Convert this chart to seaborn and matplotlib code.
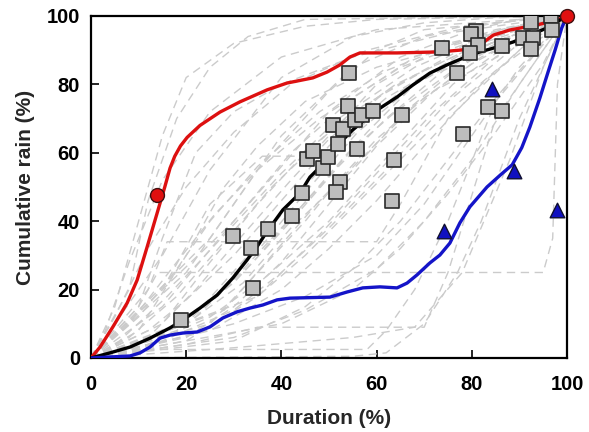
import numpy as np
import pandas as pd
import matplotlib
matplotlib.use("Agg")
import matplotlib.pyplot as plt
import seaborn as sns

# ---------------- data ----------------
# individual storm curves (gray dashed), Duration (%) vs Cumulative rain (%)
gray_x = [
    [0, 5, 10, 15, 20, 30, 45, 60, 100],
    [0, 8, 12, 18, 25, 33, 45, 100],
    [0, 10, 15, 22, 30, 40, 55, 75, 100],
    [0, 10, 20, 28, 35, 45, 60, 80, 100],
    [0, 15, 25, 35, 45, 55, 70, 85, 100],
    [0, 12, 22, 30, 42, 50, 62, 80, 100],
    [0, 18, 28, 38, 48, 58, 68, 84, 100],
    [0, 20, 30, 40, 50, 60, 72, 88, 100],
    [0, 25, 35, 45, 52, 60, 70, 82, 100],
    [0, 10, 14, 95, 97, 98, 100],
    [0, 12, 16, 60, 65, 75, 90, 100],
    [0, 20, 35, 70, 75, 85, 100],
    [0, 10, 58, 62, 68, 75, 85, 100],
    [0, 15, 25, 36, 46, 60, 75, 100],
    [0, 30, 55, 68, 78, 88, 95, 100],
    [0, 10, 30, 45, 60, 70, 80, 90, 100],
    [0, 15, 30, 40, 50, 62, 75, 90, 100],
    [0, 8, 18, 26, 35, 48, 65, 85, 100],
    [0, 5, 12, 20, 30, 42, 58, 78, 100],
    [0, 20, 32, 42, 55, 66, 78, 90, 100],
    [0, 12, 25, 37, 50, 63, 76, 90, 100],
    [0, 6, 16, 28, 40, 52, 68, 86, 100],
    [0, 25, 40, 50, 60, 70, 82, 94, 100],
    [0, 30, 45, 55, 65, 75, 85, 95, 100],
    [0, 3, 8, 15, 25, 40, 60, 100],
    [0, 20, 35, 50, 60, 70, 100],
    [0, 15, 30, 42, 55, 68, 85, 100],
    [0, 55, 62, 70, 77, 82, 90, 100],
    [0, 14, 24, 33, 43, 53, 65, 80, 100],
    [0, 16, 26, 36, 46, 56, 68, 84, 100],
    [0, 12, 20, 30, 40, 50, 62, 78, 100],
    [0, 18, 30, 42, 52, 62, 74, 88, 100],
    [0, 22, 34, 44, 54, 64, 76, 90, 100],
    [0, 8, 18, 28, 38, 50, 64, 82, 100],
    [0, 28, 38, 48, 58, 68, 80, 92, 100],
    [0, 10, 18, 25, 35, 48, 62, 80, 100],
    [0, 20, 35, 48, 60, 72, 85, 100],
    [0, 35, 45, 55, 65, 75, 85, 95, 100],
    [0, 15, 25, 40, 55, 70, 85, 100],
    [0, 25, 40, 55, 70, 85, 100],
    [0, 30, 50, 65, 80, 90, 100],
    [0, 30, 45, 60, 70, 80, 90, 100],
    [0, 40, 55, 65, 75, 85, 95, 100],
]
gray_y = [
    [0, 15, 40, 65, 82, 92, 97, 99, 100],
    [0, 20, 46, 70, 85, 94, 99, 100],
    [0, 15, 35, 60, 72, 80, 88, 95, 100],
    [0, 8, 30, 50, 62, 75, 85, 93, 100],
    [0, 10, 28, 45, 60, 72, 84, 94, 100],
    [0, 6, 20, 33, 52, 64, 78, 92, 100],
    [0, 8, 20, 35, 50, 66, 80, 92, 100],
    [0, 6, 15, 28, 45, 62, 78, 90, 100],
    [0, 10, 25, 40, 52, 64, 76, 88, 100],
    [0, 15, 25, 25, 35, 80, 100],
    [0, 20, 34, 34, 45, 70, 90, 100],
    [0, 4, 9, 9, 25, 70, 100],
    [0, 2.5, 2.5, 8, 20, 40, 75, 100],
    [0, 20, 45, 59, 59, 80, 92, 100],
    [0, 3, 6, 9, 25, 58, 85, 100],
    [0, 3, 10, 18, 30, 45, 65, 85, 100],
    [0, 5, 14, 25, 38, 55, 75, 92, 100],
    [0, 10, 28, 42, 55, 70, 85, 95, 100],
    [0, 12, 32, 50, 66, 80, 90, 97, 100],
    [0, 10, 22, 38, 55, 72, 86, 95, 100],
    [0, 4, 12, 24, 40, 60, 80, 94, 100],
    [0, 5, 18, 36, 54, 70, 85, 96, 100],
    [0, 8, 20, 32, 46, 62, 80, 95, 100],
    [0, 5, 15, 26, 40, 58, 76, 92, 100],
    [0, 8, 28, 52, 72, 88, 96, 100],
    [0, 25, 55, 78, 90, 96, 100],
    [0, 15, 40, 60, 76, 88, 96, 100],
    [0, 0.5, 1.5, 10, 25, 40, 70, 100],
    [0, 6, 16, 30, 47, 63, 78, 90, 100],
    [0, 8, 18, 33, 50, 66, 80, 92, 100],
    [0, 8, 17, 30, 46, 62, 76, 89, 100],
    [0, 9, 22, 40, 56, 70, 84, 94, 100],
    [0, 12, 28, 44, 60, 72, 84, 95, 100],
    [0, 6, 18, 34, 50, 66, 80, 92, 100],
    [0, 14, 30, 46, 60, 74, 86, 95, 100],
    [0, 12, 26, 40, 56, 72, 84, 94, 100],
    [0, 5, 18, 36, 54, 72, 88, 100],
    [0, 18, 30, 44, 58, 72, 84, 94, 100],
    [0, 30, 55, 82, 94, 98, 99.5, 100],
    [0, 35, 65, 85, 94, 98, 100],
    [0, 40, 72, 88, 96, 99, 100],
    [0, 6, 14, 26, 40, 58, 80, 100],
    [0, 10, 20, 32, 48, 66, 86, 100],
]

# red envelope (front-loaded)
red_x = [0, 1.9, 4.6, 7.6, 9.7, 11.8, 13.9, 15.5, 16.6, 17.6, 18.8, 20.2, 22.9,
         27.1, 31.3, 37.0, 41.2, 46.6, 49.6, 52.3, 54.4, 56.5, 64.3, 73.3, 78.2,
         81.7, 84.5, 88.0, 93.7, 97.9, 100]
red_y = [0, 3.2, 9.1, 16.1, 22.8, 32.5, 42.4, 50.0, 55.5, 59.0, 62.0, 64.5, 68.0,
         71.9, 74.9, 78.4, 80.4, 81.9, 83.6, 85.7, 88.0, 89.2, 89.2, 89.5, 90.1,
         91.5, 94.4, 95.9, 97.4, 98.8, 100]

# black median curve
black_x = [0, 4.0, 8.2, 12.4, 16.6, 19.3, 22.9, 26.5, 29.8, 32.8, 35.0, 37.0, 40.3,
           43.9, 46.0, 48.1, 50.2, 52.3, 55.0, 58.0, 60.1, 64.3, 67.6, 71.2, 74.8,
           78.2, 81.7, 85.3, 88.7, 92.2, 95.8, 98.5, 100]
black_y = [0, 1.5, 3.2, 5.8, 8.8, 11.1, 14.6, 18.4, 23.4, 28.7, 32.8, 37.0, 43.3,
           48.2, 52.9, 55.8, 58.8, 62.9, 66.7, 70.2, 72.5, 76.3, 79.8, 83.3, 85.7,
           87.7, 89.5, 90.9, 92.4, 94.4, 96.5, 98.8, 100]

# blue envelope (back-loaded)
blue_x = [0, 4.0, 8.2, 10.3, 12.4, 14.5, 16.6, 19.3, 22.3, 25.0, 27.7, 30.7, 33.4,
          36.1, 39.1, 41.8, 50.2, 53.8, 57.1, 60.7, 64.3, 66.4, 68.5, 71.2, 73.3,
          75.4, 77.5, 79.6, 83.2, 86.0, 88.5, 90.5, 92.2, 94.3, 96.0, 97.5, 98.9, 100]
blue_y = [0, 0.3, 0.6, 1.5, 3.2, 5.8, 6.7, 7.3, 7.6, 9.1, 11.7, 13.5, 14.6,
          15.5, 17.0, 17.5, 17.8, 19.3, 20.5, 20.8, 20.5, 21.9, 24.3, 27.8, 30.1,
          33.6, 39.5, 44.2, 50.0, 53.5, 56.5, 61.5, 67.5, 76.0, 83.5, 90.0, 96.5, 100]

# gray squares
sq_x = [18.9, 29.8, 33.6, 34.0, 37.2, 42.2, 44.3, 45.4, 46.6, 48.7, 49.8, 50.8,
        51.9, 52.9, 54.0, 55.5, 56.9, 59.2, 55.9, 52.3, 51.5, 54.2, 65.3, 63.7,
        63.2, 73.7, 80.9, 79.8, 81.3, 79.6, 86.3, 76.9, 78.1, 83.4, 86.3, 92.4,
        90.7, 92.9, 92.4, 96.6, 96.8]
sq_y = [11.1, 35.7, 32.2, 20.5, 37.7, 41.5, 48.2, 58.2, 60.5, 55.6, 58.8, 68.1,
        62.6, 67.0, 73.7, 69.6, 71.1, 72.2, 61.1, 51.5, 48.5, 83.3, 71.1, 57.9,
        45.9, 90.6, 95.6, 94.7, 91.5, 89.2, 91.2, 83.3, 65.5, 73.4, 72.2, 98.2,
        93.6, 93.6, 90.4, 100.0, 95.9]

# blue triangles
tri_x = [74.2, 84.2, 88.9, 97.9]
tri_y = [37.1, 78.7, 54.7, 43.3]

# red circles
circ_x = [13.9, 100.0]
circ_y = [47.7, 100.0]

xticks = [0, 20, 40, 60, 80, 100]
yticks = [0, 20, 40, 60, 80, 100]

# ---------------- plotting ----------------
sns.set_theme(style="white")
plt.rcParams["font.family"] = ["Liberation Sans", "DejaVu Sans"]
plt.rcParams["font.weight"] = "bold"

fig = plt.figure(figsize=(5.89, 4.32), dpi=100)
ax = fig.add_axes([0.1545, 0.1713, 0.8081, 0.7917])

gray_df = pd.DataFrame({
    "x": np.concatenate([np.asarray(v, float) for v in gray_x]),
    "y": np.concatenate([np.asarray(v, float) for v in gray_y]),
    "curve": np.concatenate([[i] * len(v) for i, v in enumerate(gray_x)]),
})
sns.lineplot(data=gray_df, x="x", y="y", units="curve", estimator=None, sort=False,
             color="#cbcbcb", linestyle=(0, (6, 4)), linewidth=1.0, ax=ax, zorder=1)

sns.lineplot(x=red_x, y=red_y, color="#dd1010", linewidth=2.4, sort=False, ax=ax, zorder=3)
sns.lineplot(x=black_x, y=black_y, color="black", linewidth=2.4, sort=False, ax=ax, zorder=3)
sns.lineplot(x=blue_x, y=blue_y, color="#1414c8", linewidth=2.4, sort=False, ax=ax, zorder=3)

sns.scatterplot(x=sq_x, y=sq_y, marker="s", s=95, color="#bdbdbd",
                edgecolor="#2a2a2a", linewidth=1.2, ax=ax, zorder=4)
sns.scatterplot(x=tri_x, y=tri_y, marker="^", s=110, color="#1010c0",
                edgecolor="#101030", linewidth=1.0, ax=ax, zorder=4)
sns.scatterplot(x=circ_x, y=circ_y, marker="o", s=100, color="#e01010",
                edgecolor="#401010", linewidth=1.0, ax=ax, zorder=5, clip_on=False)

ax.set_xlim(0, 100)
ax.set_ylim(0, 100)
ax.set_xticks(xticks)
ax.set_yticks(yticks)
ax.tick_params(axis="both", direction="in", length=6, width=1.2, labelsize=14.5,
               top=False, right=False, bottom=True, left=True, colors="black")
ax.tick_params(axis="x", pad=12)
ax.tick_params(axis="y", pad=8)
for lab in ax.get_xticklabels() + ax.get_yticklabels():
    lab.set_fontweight("bold")
for sp in ax.spines.values():
    sp.set_color("black")
    sp.set_linewidth(1.6)

ax.set_xlabel("Duration (%)", fontsize=15, fontweight="bold", labelpad=11)
ax.set_ylabel("Cumulative rain (%)", fontsize=15, fontweight="bold", labelpad=8)
ax.grid(False)

fig.savefig("out.png", dpi=100)
